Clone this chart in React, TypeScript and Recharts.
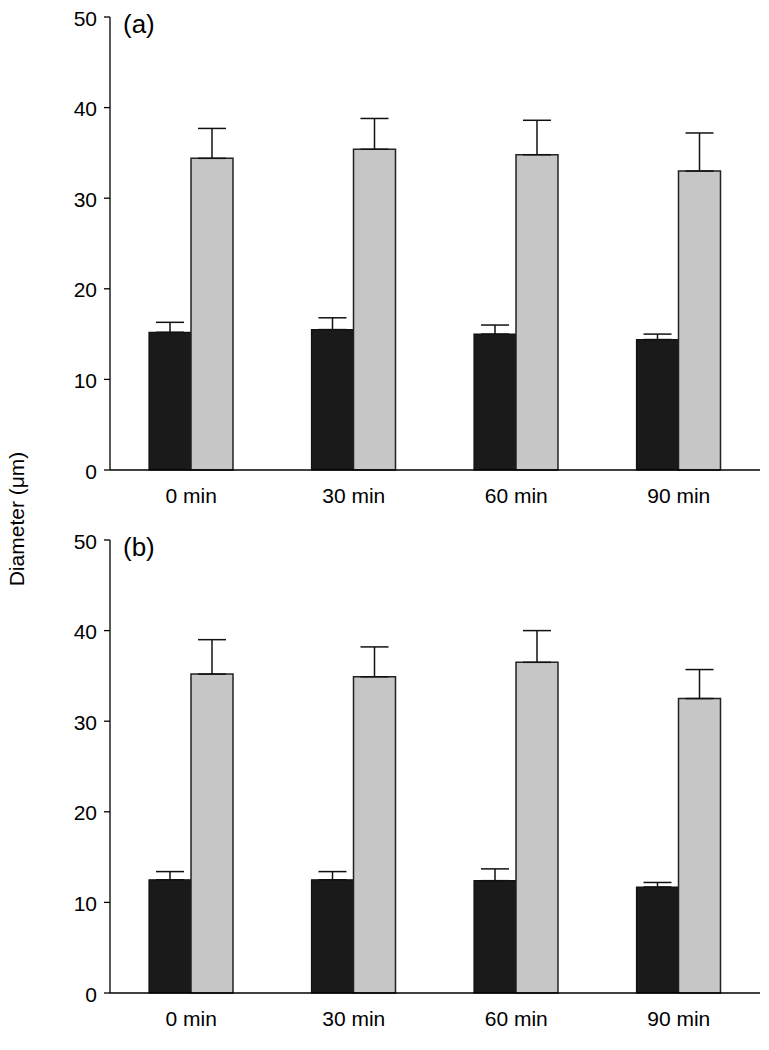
import React from "react";
import { BarChart, Bar, XAxis, YAxis, ErrorBar } from "recharts";

const categories = ["0 min", "30 min", "60 min", "90 min"];
const yTicks = [0, 10, 20, 30, 40, 50];

// Panel (a)
const aBlack = [15.2, 15.5, 15.0, 14.4];
const aBlackErr = [1.1, 1.3, 1.0, 0.6];
const aGrey = [34.4, 35.4, 34.8, 33.0];
const aGreyErr = [3.3, 3.4, 3.8, 4.2];

// Panel (b)
const bBlack = [12.5, 12.5, 12.4, 11.7];
const bBlackErr = [0.9, 0.9, 1.3, 0.5];
const bGrey = [35.2, 34.9, 36.5, 32.5];
const bGreyErr = [3.8, 3.3, 3.5, 3.2];

const FONT = "'Liberation Sans', Arial, Helvetica, sans-serif";

function build(black: number[], blackErr: number[], grey: number[], greyErr: number[]) {
  return categories.map((c, i) => ({
    name: c,
    black: black[i],
    blackErr: [0, blackErr[i]],
    grey: grey[i],
    greyErr: [0, greyErr[i]],
  }));
}

function XTick(props: any) {
  const { x, y, payload } = props;
  return (
    <text x={x} y={y + 17} textAnchor="middle" dominantBaseline="central" fontSize={21} fontFamily={FONT} fill="#000">
      {payload.value}
    </text>
  );
}

function YTick(props: any) {
  const { y, payload } = props;
  return (
    <text x={97} y={y + 1} textAnchor="end" dominantBaseline="central" fontSize={21} fontFamily={FONT} fill="#000">
      {payload.value}
    </text>
  );
}

function Panel({ data, label, top }: { data: any[]; label: string; top: number }) {
  return (
    <div style={{ position: "absolute", left: 0, top, width: 769, height: 521 }}>
      <BarChart
        width={769}
        height={521}
        data={data}
        margin={{ top: 17, right: 9, left: 0, bottom: 0 }}
        barGap={0}
        barSize={42}
      >
        <XAxis
          dataKey="name"
          axisLine={{ stroke: "#000", strokeWidth: 1.3 }}
          tickLine={false}
          height={51}
          tick={<XTick />}
        />
        <YAxis
          domain={[0, 50]}
          ticks={yTicks}
          width={110}
          axisLine={{ stroke: "#000", strokeWidth: 1.3 }}
          tickLine={{ stroke: "#000", strokeWidth: 1.3 }}
          tickSize={6}
          tick={<YTick />}
        />
        <Bar dataKey="black" fill="#1a1a1a" stroke="#111" strokeWidth={1.2} isAnimationActive={false}>
          <ErrorBar dataKey="blackErr" width={14} stroke="#111" strokeWidth={1.5} direction="y" />
        </Bar>
        <Bar dataKey="grey" fill="#c6c6c6" stroke="#222" strokeWidth={1.5} isAnimationActive={false}>
          <ErrorBar dataKey="greyErr" width={14} stroke="#111" strokeWidth={1.5} direction="y" />
        </Bar>
      </BarChart>
      <div
        style={{
          position: "absolute",
          left: 123,
          top: 9,
          fontFamily: FONT,
          fontSize: 26,
          color: "#000",
          lineHeight: "30px",
        }}
      >
        {label}
      </div>
    </div>
  );
}

export default function App() {
  const dataA = build(aBlack, aBlackErr, aGrey, aGreyErr);
  const dataB = build(bBlack, bBlackErr, bGrey, bGreyErr);
  return (
    <div style={{ position: "absolute", left: 0, top: 0, width: 769, height: 1050, background: "#fff" }}>
      <Panel data={dataA} label="(a)" top={0} />
      <Panel data={dataB} label="(b)" top={523} />
      <div
        style={{
          position: "absolute",
          left: 17,
          top: 519,
          transform: "translate(-50%, -50%) rotate(-90deg)",
          whiteSpace: "nowrap",
          fontFamily: FONT,
          fontSize: 21,
          color: "#000",
          lineHeight: "24px",
        }}
      >
        Diameter (μm)
      </div>
    </div>
  );
}
